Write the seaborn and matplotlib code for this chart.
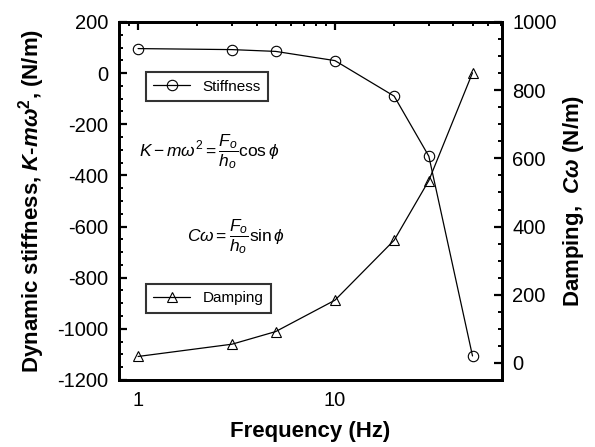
import matplotlib
matplotlib.use("Agg")
import matplotlib.pyplot as plt
from matplotlib.lines import Line2D
from matplotlib.ticker import MultipleLocator, LogLocator, NullFormatter, FixedLocator
import seaborn as sns
import pandas as pd

freq = [1, 3, 5, 10, 20, 30, 50]
stiffness = [96, 92, 85, 49, -90, -325, -1106]
damping = [19, 55, 92, 184, 360, 535, 851]
xticks = [1, 10]
xtick_labels = ["1", "10"]

sns.set_theme(style="white")
plt.rcParams.update({
    "font.family": ["Liberation Sans", "DejaVu Sans"],
    "axes.unicode_minus": False,
    "text.color": "black",
    "axes.labelcolor": "black",
    "mathtext.fontset": "custom",
    "mathtext.rm": "Liberation Sans",
    "mathtext.it": "Liberation Sans:italic",
    "mathtext.bf": "Liberation Sans:bold",
    "mathtext.bfit": "Liberation Sans:italic:bold",
})

df = pd.DataFrame({"freq": freq, "stiffness": stiffness, "damping": damping})

fig = plt.figure(figsize=(5.95, 4.47), dpi=100)
ax = fig.add_axes([0.2, 0.1499, 0.6437, 0.8009])
ax2 = ax.twinx()

mk = dict(markerfacecolor="none", markeredgecolor="black", markersize=7.5,
          markeredgewidth=0.8, color="black", linewidth=0.9)
sns.lineplot(data=df, x="freq", y="stiffness", ax=ax, marker="o", **mk)
sns.lineplot(data=df, x="freq", y="damping", ax=ax2, marker="^", **mk)

ax.set_xscale("log")
ax.set_xlim(0.8, 70.6)
ax.set_ylim(-1200, 200)
ax2.set_ylim(-50, 1000)

ax.xaxis.set_major_locator(FixedLocator(xticks))
ax.set_xticklabels(xtick_labels)
ax.xaxis.set_minor_locator(LogLocator(base=10, subs=range(2, 10)))
ax.xaxis.set_minor_formatter(NullFormatter())
ax.yaxis.set_major_locator(MultipleLocator(200))
ax.yaxis.set_minor_locator(MultipleLocator(50))
ax2.yaxis.set_major_locator(MultipleLocator(200))
ax2.yaxis.set_minor_locator(MultipleLocator(50))

for a in (ax, ax2):
    for s in a.spines.values():
        s.set_linewidth(2.0)
        s.set_color("black")

ax.tick_params(axis="both", which="both", direction="in", top=True, right=False,
               colors="black", labelsize=14.5)
ax.tick_params(which="major", length=5.5, width=1.6, pad=8)
ax.tick_params(which="minor", length=3, width=1.4)
ax2.tick_params(axis="y", which="both", direction="in", colors="black", labelsize=14.5)
ax2.tick_params(which="major", length=5.5, width=1.6, pad=7.5)
ax2.tick_params(which="minor", length=3, width=1.4)

ax.set_xlabel("Frequency (Hz)", fontsize=16, fontweight="bold", labelpad=8)
ax.set_ylabel(r"Dynamic stiffness, $\mathbfit{K}$-$\mathbfit{m\omega}^\mathbf{2}$, (N/m)",
              fontsize=16, fontweight="bold", labelpad=7)
ax2.set_ylabel(r"Damping,  $\mathbfit{C\omega}$ (N/m)", fontsize=16,
               fontweight="bold", labelpad=3)

h1 = [Line2D([], [], marker="o", **mk)]
h2 = [Line2D([], [], marker="^", **mk)]
leg1 = ax2.legend(h1, ["Stiffness"], loc="upper left", bbox_to_anchor=(0.07, 0.86),
                  frameon=True, fancybox=False, edgecolor="black", fontsize=11,
                  handlelength=2.4, borderpad=0.5, borderaxespad=0)
leg1.get_frame().set_linewidth(1.5)
ax2.add_artist(leg1)
leg2 = ax2.legend(h2, ["Damping"], loc="upper left", bbox_to_anchor=(0.07, 0.269),
                  frameon=True, fancybox=False, edgecolor="black", fontsize=11,
                  handlelength=2.4, borderpad=0.5, borderaxespad=0)
leg2.get_frame().set_linewidth(1.5)

fig.text(0.352, 0.66, r"$K-m\omega^2=\dfrac{F_o}{h_o}\cos\phi$", fontsize=12.5,
         ha="center", va="center")
fig.text(0.397, 0.47, r"$C\omega=\dfrac{F_o}{h_o}\sin\phi$", fontsize=12.5,
         ha="center", va="center")

fig.savefig("out.png", dpi=100)
